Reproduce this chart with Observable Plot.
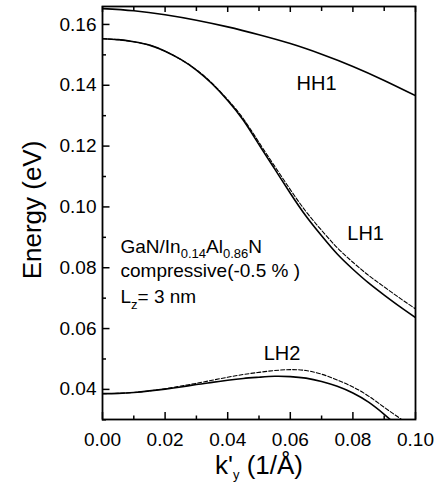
<!DOCTYPE html>
<html><head><meta charset="utf-8">
<script src="https://cdn.jsdelivr.net/npm/d3@7"></script>
<script src="https://cdn.jsdelivr.net/npm/@observablehq/plot@0.6"></script>
<style>body{margin:0;background:#fff}</style>
</head><body><div id="chart"></div>
<script>
// k'_y grid (1/Å)
const kCoarse = [0, 0.01, 0.02, 0.03, 0.04, 0.05, 0.06, 0.07, 0.08, 0.09, 0.10];
const kFine = [0, 0.005, 0.01, 0.015, 0.02, 0.025, 0.03, 0.035, 0.04, 0.045, 0.05,
               0.055, 0.06, 0.065, 0.07, 0.075, 0.08, 0.085, 0.09, 0.095, 0.10];
// Energies (eV)
const hh1 = [0.1652, 0.1645, 0.1632, 0.1614, 0.1592, 0.1566, 0.1537, 0.1502, 0.1462, 0.1416, 0.1366];
const lh1Solid = [0.1553, 0.1550, 0.1543, 0.1532, 0.1512, 0.1485, 0.1450, 0.1405, 0.1350, 0.1285, 0.1205,
                  0.1125, 0.1045, 0.0970, 0.0905, 0.0845, 0.0795, 0.0750, 0.0710, 0.0672, 0.0636];
const lh1Dashed = [0.1553, 0.1550, 0.1543, 0.1532, 0.1512, 0.1485, 0.1451, 0.1407, 0.1353, 0.1290, 0.1212,
                   0.1134, 0.1057, 0.0985, 0.0923, 0.0866, 0.0818, 0.0775, 0.0737, 0.0700, 0.0665];
const lh2Solid = [0.0386, 0.0387, 0.0390, 0.0395, 0.0401, 0.0408, 0.0416, 0.0423, 0.0430, 0.0436, 0.0440,
                  0.0443, 0.0442, 0.0437, 0.0426, 0.0410, 0.0388, 0.0358, 0.0318, 0.0272, 0.0222];
const lh2Dashed = [0.0386, 0.0387, 0.0390, 0.0395, 0.0402, 0.0411, 0.0420, 0.0430, 0.0440, 0.0449, 0.0456,
                   0.0462, 0.0465, 0.0462, 0.0450, 0.0431, 0.0408, 0.0378, 0.0341, 0.0305, 0.0268];

// ticks
const xMajor = [0, 0.02, 0.04, 0.06, 0.08, 0.10];
const xMinor = [0.01, 0.03, 0.05, 0.07, 0.09];
const yMajor = [0.04, 0.06, 0.08, 0.10, 0.12, 0.14, 0.16];
const yMinor = [0.03, 0.05, 0.07, 0.09, 0.11, 0.13, 0.15];

// labels
const bandNames = ["HH1", "LH1", "LH2"];
const bandLabelK = [0.0620, 0.0782, 0.0515];
const bandLabelE = [0.1386, 0.0890, 0.0496];
const noteLines = ["GaN/In_{0.14}Al_{0.86}N", "compressive(-0.5 % )", "L_{z}= 3 nm"];
const noteK = [0.00575, 0.00575, 0.00575];
const noteE = [0.0848, 0.0769, 0.0683];
const xTitle = "k'_{y} (1/Å)";
const yTitle = "Energy (eV)";

const series = (ks, es) => ks.map((k, i) => ({k, e: es[i]}));
const fmt = d3.format(".2f");
const font = "'Liberation Sans', Arial, Helvetica, sans-serif";

const W = 441, H = 491, ML = 102, MR = 26, MT = 6, MB = 72;
const PW = W - ML - MR, PH = H - MT - MB;
const tk = {stroke: "black", strokeWidth: 1.5};

const plot = Plot.plot({
  width: W, height: H,
  marginLeft: ML, marginRight: MR, marginTop: MT, marginBottom: MB,
  style: {fontFamily: font, color: "black", background: "white"},
  x: {domain: [0, 0.1], axis: null},
  y: {domain: [0.0301, 0.1659], axis: null},
  marks: [
    Plot.line(series(kCoarse, hh1), {x: "k", y: "e", curve: "natural", stroke: "black", strokeWidth: 1.6, clip: true}),
    Plot.line(series(kFine, lh1Dashed), {x: "k", y: "e", curve: "natural", stroke: "black", strokeWidth: 1.1, strokeDasharray: "4,2", clip: true}),
    Plot.line(series(kFine, lh1Solid), {x: "k", y: "e", curve: "natural", stroke: "black", strokeWidth: 1.6, clip: true}),
    Plot.line(series(kFine, lh2Dashed), {x: "k", y: "e", curve: "natural", stroke: "black", strokeWidth: 1.1, strokeDasharray: "4,2", clip: true}),
    Plot.line(series(kFine, lh2Solid), {x: "k", y: "e", curve: "natural", stroke: "black", strokeWidth: 1.6, clip: true}),
    Plot.frame({stroke: "black", strokeWidth: 1.8}),
    // inward ticks
    Plot.tickX(xMajor, {x: d => d, insetTop: PH - 7, ...tk}),
    Plot.tickX(xMinor, {x: d => d, insetTop: PH - 3.5, ...tk}),
    Plot.tickX(xMajor, {x: d => d, insetBottom: PH - 6, ...tk}),
    Plot.tickX(xMinor, {x: d => d, insetBottom: PH - 5, ...tk}),
    Plot.tickY(yMajor, {y: d => d, insetRight: PW - 7.5, ...tk}),
    Plot.tickY(yMinor, {y: d => d, insetRight: PW - 4, ...tk}),
    // tick labels
    Plot.axisX(xMajor, {anchor: "bottom", tickSize: 0, tickPadding: 13, tickFormat: fmt, label: null, fontSize: 19, fill: "black"}),
    Plot.axisY(yMajor, {anchor: "left", tickSize: 0, tickPadding: 6, tickFormat: fmt, label: null, fontSize: 19, fill: "black"}),
    // band labels
    Plot.text(bandNames, {x: (d, i) => bandLabelK[i], y: (d, i) => bandLabelE[i], text: d => d,
      textAnchor: "start", lineAnchor: "bottom", fontSize: 20, fill: "black"}),
    Plot.text(noteLines, {x: (d, i) => noteK[i], y: (d, i) => noteE[i], text: d => d,
      textAnchor: "start", lineAnchor: "bottom", fontSize: 19, fill: "black"}),
    // axis titles
    Plot.text([yTitle], {frameAnchor: "left", rotate: -90, dx: -70, dy: -3, text: d => d,
      fontSize: 26, fill: "black", textAnchor: "middle"}),
    Plot.text([xTitle], {frameAnchor: "bottom", dy: 54, text: d => d, lineAnchor: "bottom",
      fontSize: 26, fill: "black", textAnchor: "middle"})
  ]
});

// turn _{...} into subscript tspans
const NS = "http://www.w3.org/2000/svg";
plot.querySelectorAll("text").forEach(el => {
  const s = el.textContent;
  if (!s.includes("_{")) return;
  const fs = parseFloat(el.getAttribute("font-size") || getComputedStyle(el).fontSize) || 19;
  const subSize = Math.round(fs * 0.66);
  const shift = fs * 0.28;
  const parts = s.split(/(_\{[^}]*\})/);
  el.textContent = "";
  let down = false;
  for (const p of parts) {
    if (!p) continue;
    const t = document.createElementNS(NS, "tspan");
    if (p.startsWith("_{")) {
      t.textContent = p.slice(2, -1);
      t.setAttribute("font-size", subSize);
      t.setAttribute("dy", shift);
      down = true;
    } else {
      t.textContent = p;
      if (down) { t.setAttribute("dy", -shift); down = false; }
    }
    el.appendChild(t);
  }
});

document.getElementById("chart").appendChild(plot);
</script>
</body></html>
